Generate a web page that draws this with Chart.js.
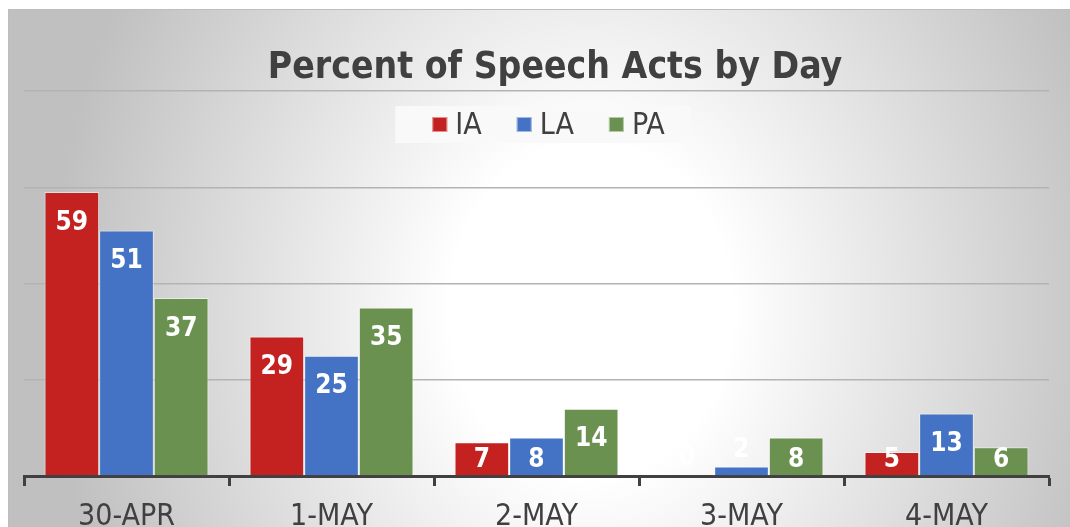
<!DOCTYPE html>
<html><head><meta charset="utf-8">
<script src="https://cdn.jsdelivr.net/npm/chart.js@4.4.1/dist/chart.umd.min.js"></script>
<style>
html,body{margin:0;padding:0;width:1070px;height:527px;overflow:hidden;background:#fff;}
#frame{position:absolute;left:8px;top:9px;width:1100px;height:560px;border-top:1px solid #bdbdbd;border-left:1px solid #bdbdbd;
 background:radial-gradient(ellipse 540px 640px at 582px 300px,#ffffff 0%,#ffffff 26%,#c0c0c0 100%);}
#wrap{position:absolute;left:0;top:0;width:1110px;height:527px;}
</style></head><body>
<div id="frame"></div>
<div id="wrap"><canvas id="c" width="1110" height="527"></canvas></div>
<script>
const categories = ['30-APR', '1-MAY', '2-MAY', '3-MAY', '4-MAY'];
const seriesNames = ['IA', 'LA', 'PA'];
const iaValues = [59, 29, 7, 0.3, 5];
const laValues = [51, 25, 8, 2, 13];
const paValues = [37, 35, 14, 8, 6];
const seriesColors = ['#C42121', '#4472C4', '#6A9150'];
const yMin = 0, yMax = 80, yStep = 20;
const chartTitle = 'Percent of Speech Acts by Day';

const FONT = '"DejaVu Sans Condensed", "DejaVu Sans", sans-serif';
const TEXT = '#404040';

const valueLabels = {
  id: 'valueLabels',
  afterDatasetsDraw(chart) {
    const ctx = chart.ctx;
    ctx.save();
    ctx.font = 'bold 26px ' + FONT;
    ctx.fillStyle = '#ffffff';
    ctx.textAlign = 'center';
    ctx.textBaseline = 'middle';
    chart.data.datasets.forEach((ds, i) => {
      chart.getDatasetMeta(i).data.forEach((bar, j) => {
        const top = bar.y, bottom = bar.base;
        const cy = (bottom - top < 12) ? top - 16 : Math.min(top + 31, bottom - 15);
        ctx.fillText(String(Math.round(ds.data[j])), bar.x, cy);
      });
    });
    ctx.restore();
  }
};

const boxLegend = {
  id: 'boxLegend',
  afterDraw(chart) {
    const ctx = chart.ctx;
    ctx.save();
    ctx.font = '30px ' + FONT;
    const sq = 15, gap = 8, spacing = 35;
    const items = chart.data.datasets.map(ds => ({ label: ds.label, color: ds.backgroundColor, w: ctx.measureText(ds.label).width }));
    const total = items.reduce((s, it) => s + sq + gap + it.w, 0) + spacing * (items.length - 1);
    const cx = (chart.chartArea.left + chart.chartArea.right) / 2 + 12;
    const cy = chart.chartArea.top + 34;
    let x = cx - total / 2;
    ctx.fillStyle = '#f9f9f9';
    ctx.fillRect(x - 37, cy - 19, total + 63, 37);
    ctx.textBaseline = 'middle';
    ctx.textAlign = 'left';
    items.forEach(it => {
      ctx.fillStyle = it.color;
      ctx.fillRect(x, cy - 8, sq, sq);
      ctx.strokeStyle = 'rgba(255,255,255,0.5)';
      ctx.lineWidth = 1;
      ctx.strokeRect(x + 0.5, cy - 7.5, sq - 1, sq - 1);
      ctx.fillStyle = TEXT;
      ctx.fillText(it.label, x + sq + gap, cy + 1);
      x += sq + gap + it.w + spacing;
    });
    ctx.restore();
  }
};

const seriesData = [iaValues, laValues, paValues];
new Chart(document.getElementById('c'), {
  type: 'bar',
  data: {
    labels: categories,
    datasets: seriesNames.map((name, i) => ({
      label: name,
      data: seriesData[i],
      backgroundColor: seriesColors[i],
      borderColor: 'rgba(255,255,255,0.5)',
      borderWidth: 1,
      categoryPercentage: 0.8,
      barPercentage: 1.0
    }))
  },
  options: {
    responsive: false,
    animation: false,
    devicePixelRatio: 1,
    layout: { padding: { left: 24, right: 24, top: 0, bottom: 0 } },
    plugins: {
      legend: { display: false },
      tooltip: { enabled: false },
      title: {
        display: true,
        text: chartTitle,
        color: TEXT,
        font: { family: FONT, size: 37, weight: 'bold', lineHeight: 1.2 },
        padding: { top: 46.2, bottom: 0.4 }
      }
    },
    scales: {
      x: {
        offset: true,
        grid: { display: true, drawOnChartArea: false, drawTicks: true, tickLength: 10, tickWidth: 3, tickColor: TEXT, offset: true },
        border: { display: true, color: TEXT, width: 3 },
        ticks: { color: TEXT, font: { family: FONT, size: 30 }, padding: 13, maxRotation: 0, autoSkip: false },
        afterFit(s) { s.height = 51; }
      },
      y: {
        position: 'right',
        min: yMin, max: yMax,
        ticks: { display: false, stepSize: yStep },
        grid: { color: '#b3b3b3', lineWidth: 1.5, drawTicks: false },
        border: { display: false },
        afterFit(s) { s.width = 37; }
      }
    }
  },
  plugins: [valueLabels, boxLegend]
});
</script>
</body></html>
